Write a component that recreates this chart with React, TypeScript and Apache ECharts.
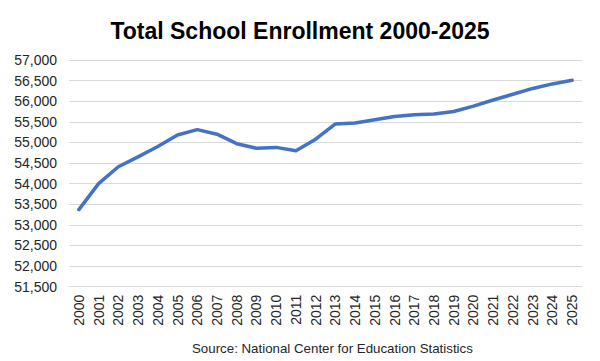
import React, { useEffect, useRef } from "react";
import * as echarts from "echarts";

const years = [
  "2000", "2001", "2002", "2003", "2004", "2005", "2006", "2007", "2008", "2009",
  "2010", "2011", "2012", "2013", "2014", "2015", "2016", "2017", "2018", "2019",
  "2020", "2021", "2022", "2023", "2024", "2025",
];

const enrollment = [
  53370, 54000, 54410, 54650, 54900, 55180, 55310, 55200, 54970, 54860,
  54880, 54800, 55080, 55450, 55470, 55550, 55630, 55670, 55690, 55750,
  55880, 56030, 56170, 56310, 56420, 56510,
];

const titleText = "Total School Enrollment 2000-2025";
const sourceText = "Source: National Center for Education Statistics";
const yMin = 51500;
const yMax = 57000;
const yStep = 500;

export default function App() {
  const ref = useRef<HTMLDivElement>(null);
  useEffect(() => {
    if (!ref.current) return;
    const chart = echarts.init(ref.current, null, { renderer: "svg" });
    chart.setOption({
      animation: false,
      backgroundColor: "#ffffff",
      title: {
        text: titleText,
        left: "center",
        top: 14,
        textStyle: {
          fontFamily: "Liberation Sans, Arial, sans-serif",
          fontWeight: "bold",
          fontSize: 23,
          color: "#000000",
        },
      },
      graphic: [
        {
          type: "text",
          left: 192,
          top: 342,
          style: {
            text: sourceText,
            fontFamily: "Liberation Sans, Arial, sans-serif",
            fontSize: 13.3,
            fill: "#262626",
          },
        },
      ],
      grid: { left: 69, right: 18, top: 60, bottom: 74.3, containLabel: false },
      xAxis: {
        type: "category",
        data: years,
        boundaryGap: true,
        axisLine: { show: false },
        axisTick: { show: false },
        axisLabel: {
          rotate: 90,
          interval: 0,
          margin: 8,
          fontFamily: "Liberation Sans, Arial, sans-serif",
          fontSize: 14,
          color: "#262626",
        },
      },
      yAxis: {
        type: "value",
        min: yMin,
        max: yMax,
        interval: yStep,
        axisLine: { show: false },
        axisTick: { show: false },
        splitLine: { lineStyle: { color: "#d9d9d9", width: 1 } },
        axisLabel: {
          margin: 12,
          fontFamily: "Liberation Sans, Arial, sans-serif",
          fontSize: 14,
          color: "#262626",
          formatter: (v: number) => v.toLocaleString("en-US"),
        },
      },
      series: [
        {
          type: "line",
          data: enrollment,
          symbol: "none",
          lineStyle: { color: "#4472C4", width: 3.5, cap: "round", join: "round" },
        },
      ],
    });
    return () => chart.dispose();
  }, []);
  return <div ref={ref} style={{ width: 600, height: 361, position: "absolute", left: 0, top: 0 }} />;
}
